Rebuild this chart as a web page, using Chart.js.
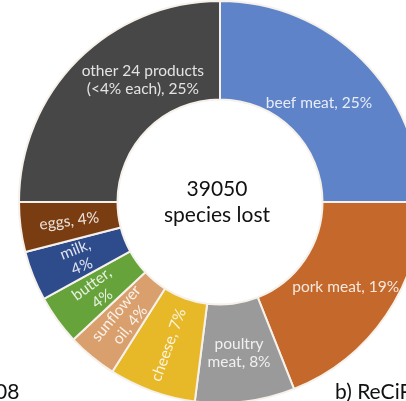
<!DOCTYPE html>
<html>
<head>
<meta charset="utf-8">
<script src="https://cdn.jsdelivr.net/npm/chart.js@4"></script>
<style>
  body { margin: 0; width: 406px; height: 401px; overflow: hidden; background: #fff; position: relative; font-family: Lato, "Open Sans", sans-serif; }
  #pie { position: absolute; left: 0; top: 0; }
  .side { position: absolute; font-size: 21px; color: #111; top: 378px; white-space: nowrap; }
</style>
</head>
<body>
<canvas id="pie" width="440" height="404"></canvas>
<div class="side" style="left:-5px;">08</div>
<div class="side" style="left:335px;">b) ReCiPe</div>
<script>
// 제품별 종 손실 비율 (%)
const products = ["beef meat", "pork meat", "poultry meat", "cheese", "sunflower oil", "butter", "milk", "eggs", "other 24 products"];
const shares = [25, 19, 8, 7, 4, 4, 4, 4, 25];
// 조각 안에 쓰는 글자 (줄 단위)
const sliceLabels = [
    ["beef meat, 25%"],
    ["pork meat, 19%"],
    ["poultry", "meat, 8%"],
    ["cheese, 7%"],
    ["sunflower", "oil, 4%"],
    ["butter,", "4%"],
    ["milk,", "4%"],
    ["eggs, 4%"],
    ["other 24 products", "(<4% each), 25%"]
];
const totalLost = "39050";

const colors = ["#5f83c8", "#c4682b", "#9a9a9a", "#e7b828", "#d9a06e", "#66a33b", "#2e4b8c", "#7a3d12", "#474747"];

// 조각 라벨 그리는 플러그인
const sliceLabelPlugin = {
    id: "sliceLabel",
    afterDatasetsDraw(chart, args, opts) {
        const ctx = chart.ctx;
        const arcs = chart.getDatasetMeta(0).data;
        ctx.save();
        ctx.font = "15.5px Lato, 'Open Sans', sans-serif";
        ctx.fillStyle = "rgba(255,255,255,0.85)";
        ctx.textAlign = "center";
        ctx.textBaseline = "middle";
        arcs.forEach((arc, i) => {
            const p = arc.getProps(["x", "y", "startAngle", "endAngle"], true);
            const tweak = opts.tweak[i] || {};
            const mid = (p.startAngle + p.endAngle) / 2 + (tweak.da || 0);
            const r = tweak.r || opts.radius;
            const x = p.x + Math.cos(mid) * r;
            const y = p.y + Math.sin(mid) * r;
            const lines = sliceLabels[i];
            ctx.save();
            ctx.translate(x, y);
            if (opts.radial.includes(i)) {
                ctx.rotate(mid + Math.PI);
            }
            const lh = 18;
            lines.forEach((line, k) => {
                ctx.fillText(line, 0, (k - (lines.length - 1) / 2) * lh);
            });
            ctx.restore();
        });
        // 가운데 글자
        const c = arcs[0];
        ctx.fillStyle = "#111";
        ctx.font = "21px Lato, 'Open Sans', sans-serif";
        ctx.fillText(totalLost, c.x - 3, c.y - 13);
        ctx.fillText("species lost", c.x - 3, c.y + 13);
        ctx.restore();
    }
};

new Chart(document.getElementById("pie"), {
    type: "doughnut",
    data: {
        labels: products,
        datasets: [{
            data: shares,
            backgroundColor: colors,
            borderColor: "#f6f1ea",
            borderWidth: 2
        }]
    },
    options: {
        responsive: false,
        animation: false,
        cutout: "51%",
        layout: { padding: 0 },
        plugins: {
            legend: { display: false },
            tooltip: { enabled: false },
            sliceLabel: {
                radius: 152,
                radial: [3, 4, 5, 6, 7],
                tweak: { 0: { r: 140 }, 8: { r: 144, da: 0.22 } }
            }
        }
    },
    plugins: [sliceLabelPlugin]
});
</script>
</body>
</html>
